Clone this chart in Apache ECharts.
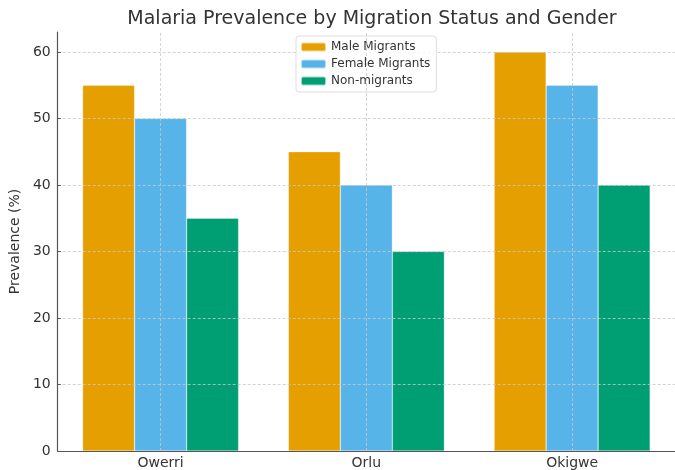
<!DOCTYPE html>
<html>
<head>
    <meta charset="UTF-8">
    <title>Malaria Prevalence</title>
    <style>
        html, body { margin: 0; padding: 0; background: #fff; }
        #main { width: 675px; height: 470px; }
    </style>
</head>
<body>
    <div id="main"></div>
    <script src="https://cdn.jsdelivr.net/npm/echarts@6/dist/echarts.min.js"></script>
    <script>
    // data
    var towns = ['Owerri', 'Orlu', 'Okigwe'];
    var maleMigrants = [55, 45, 60];
    var femaleMigrants = [50, 40, 55];
    var nonMigrants = [35, 30, 40];
    var seriesNames = ['Male Migrants', 'Female Migrants', 'Non-migrants'];
    var seriesColors = ['#E69F00', '#56B4E9', '#009E73'];

    var font = 'DejaVu Sans';
    var gridColor = '#c8c8c8';
    var myChart = echarts.init(document.getElementById('main'));

    function barSeries(i, values) {
        return {
            name: seriesNames[i],
            type: 'bar',
            data: values,
            barWidth: 52,
            barGap: '0%',
            z: -1,
            itemStyle: { color: seriesColors[i], borderColor: 'rgba(255,255,255,0.6)', borderWidth: 0.5 }
        };
    }

    // vertical grid lines on the category centres, above the bars
    // (the middle series sits on the centre, so its markLine lands there)
    var middle = barSeries(1, femaleMigrants);
    middle.markLine = {
        silent: true,
        symbol: 'none',
        label: { show: false },
        lineStyle: { color: gridColor, type: [3, 2], width: 0.8 },
        data: towns.map(function (t) { return { xAxis: t }; })
    };

    myChart.setOption({
        animation: false,
        textStyle: { fontFamily: font },
        title: {
            text: 'Malaria Prevalence by Migration Status and Gender',
            left: 367, top: 5, textAlign: 'center',
            textStyle: { fontFamily: font, fontSize: 19, fontWeight: 'normal', color: '#333' }
        },
        legend: {
            top: 36, left: 296,
            orient: 'vertical',
            itemWidth: 25, itemHeight: 9, itemGap: 5,
            padding: [5, 6, 5, 4],
            borderColor: '#ddd', borderWidth: 1, borderRadius: 3,
            backgroundColor: 'rgba(255,255,255,0.8)',
            textStyle: { fontFamily: font, fontSize: 12, color: '#333' },
            data: seriesNames
        },
        grid: { left: 54, top: 32, right: -3, bottom: 18 },
        xAxis: {
            type: 'category',
            data: towns,
            axisLine: { lineStyle: { color: '#555', width: 1.2 } },
            axisTick: { alignWithLabel: true, inside: true, length: 3, lineStyle: { color: '#555' } },
            axisLabel: { fontSize: 14, color: '#333', margin: 5 },
            splitLine: { show: false }
        },
        yAxis: {
            type: 'value',
            min: 0, max: 63, interval: 10,
            name: 'Prevalence (%)',
            nameLocation: 'middle',
            nameGap: 34,
            nameTextStyle: { fontSize: 14, color: '#333' },
            axisLine: { show: true, lineStyle: { color: '#555', width: 1.2 } },
            axisTick: { show: true, inside: true, length: 3, lineStyle: { color: '#555' } },
            axisLabel: { fontSize: 14, color: '#333', margin: 7, showMaxLabel: false },
            splitLine: { show: true, showMaxLine: false, lineStyle: { color: gridColor, type: [3, 2], width: 0.8 } }
        },
        series: [
            barSeries(0, maleMigrants),
            middle,
            barSeries(2, nonMigrants)
        ]
    });
    </script>
</body>
</html>
